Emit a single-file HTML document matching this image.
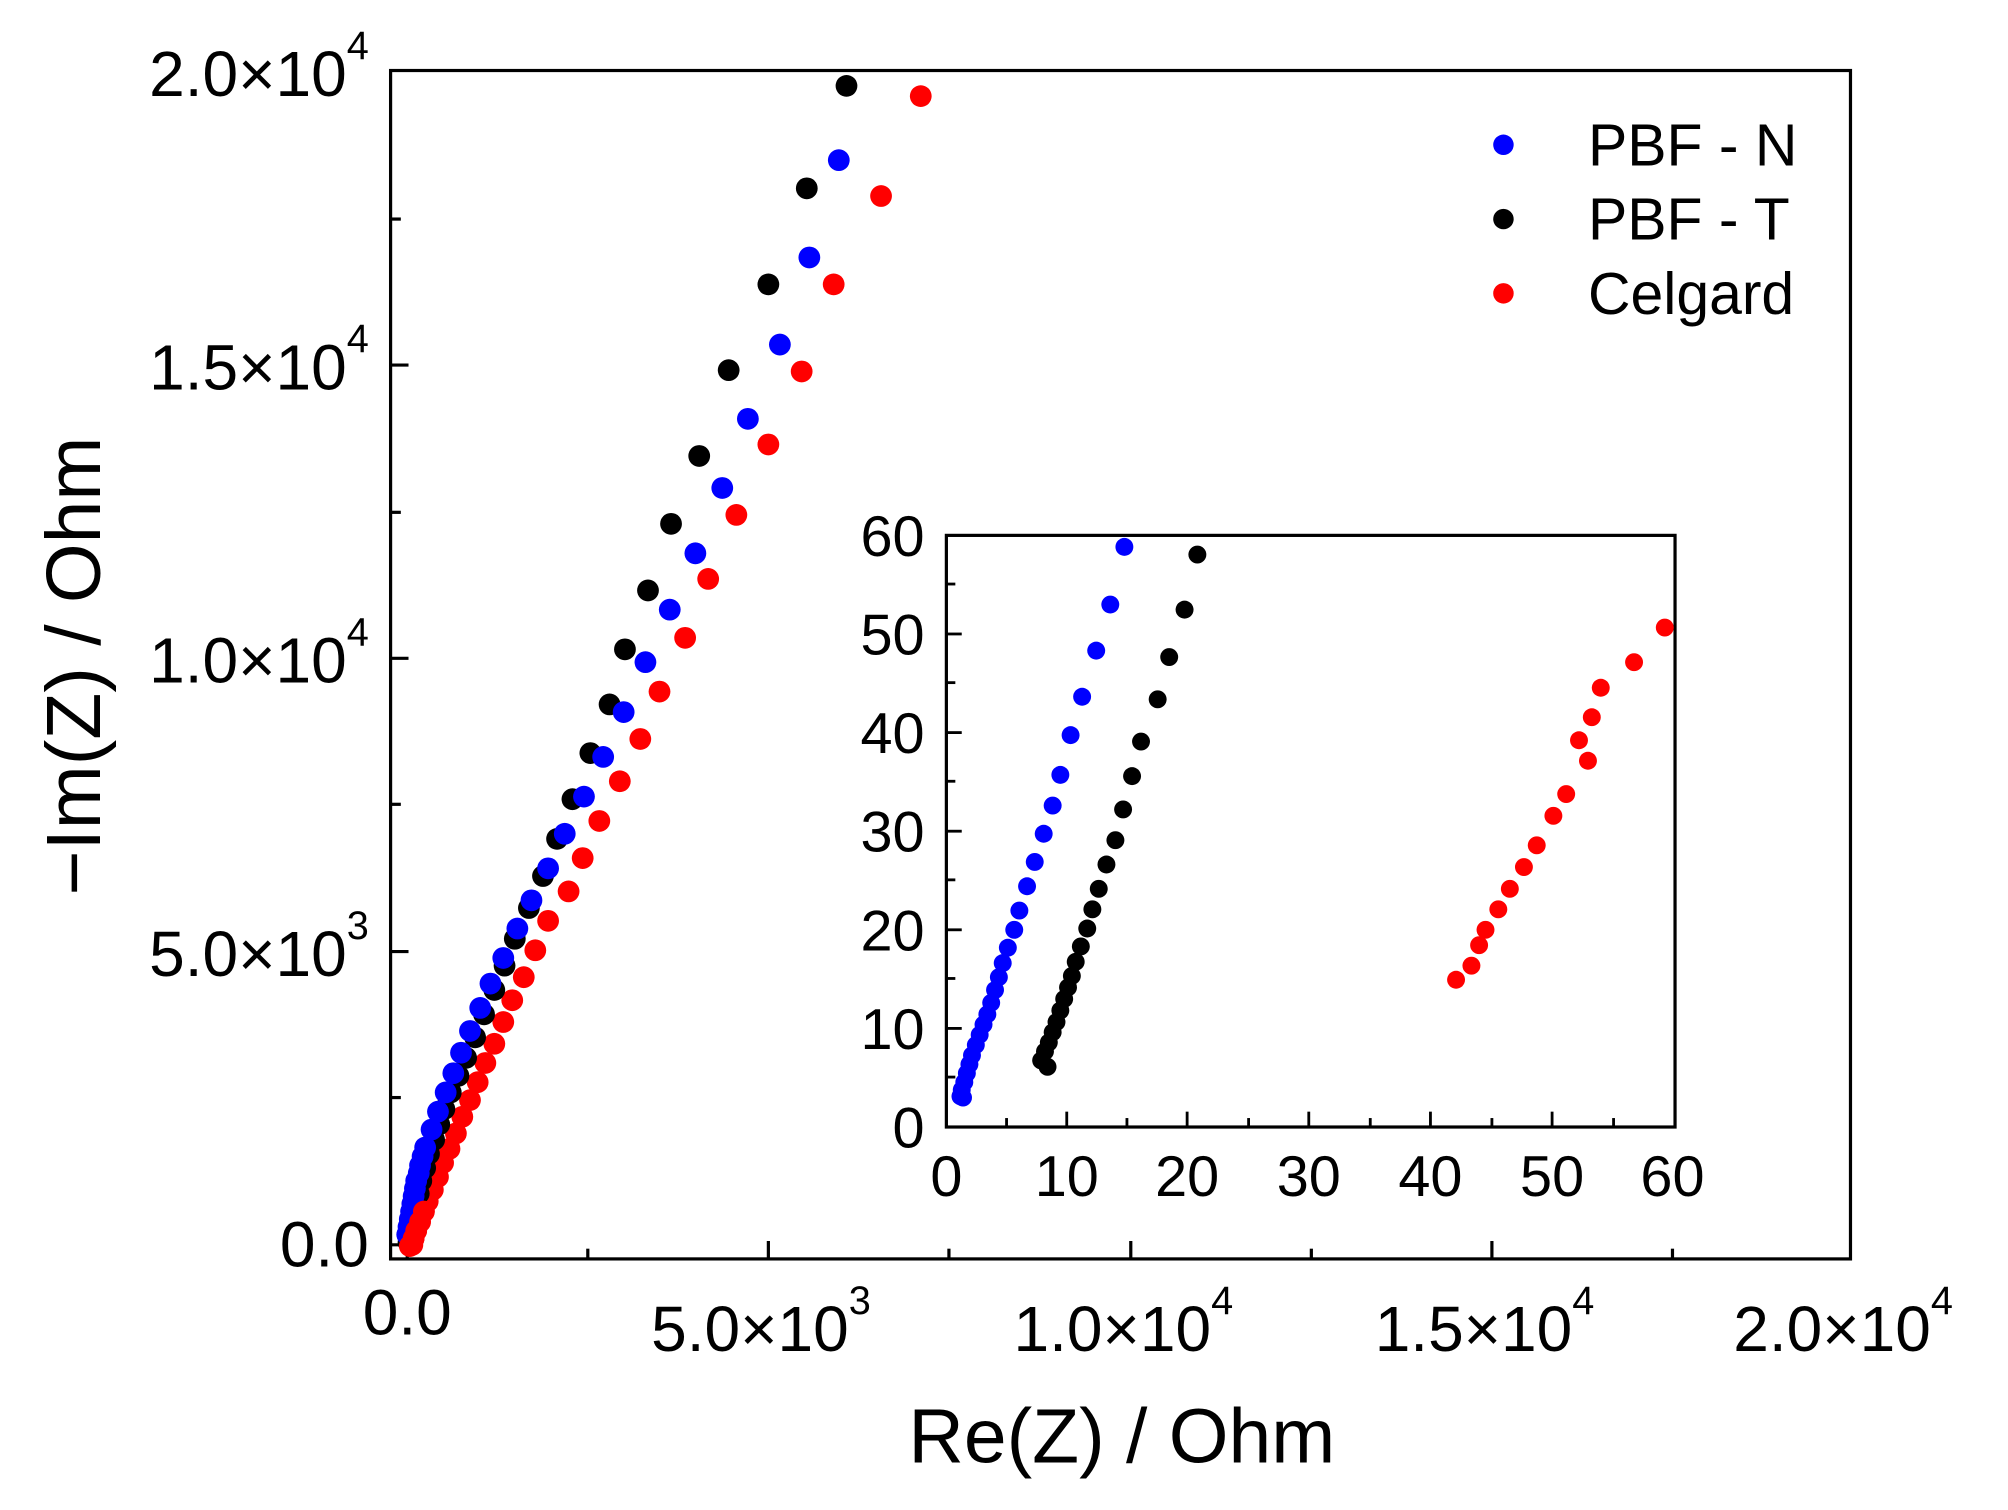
<!DOCTYPE html>
<html><head><meta charset="utf-8"><style>html,body{margin:0;padding:0;background:#fff}svg{display:block}</style></head>
<body>
<svg width="2008" height="1510" viewBox="0 0 1568 1179" xmlns="http://www.w3.org/2000/svg" font-family="Liberation Sans, Arial, sans-serif">
<rect width="1568" height="1179" fill="#fff"/>
<rect x="305" y="55" width="1140" height="928" fill="none" stroke="#000" stroke-width="2.5"/>
<g stroke="#000" stroke-width="2.5">
<line x1="318" y1="983" x2="318" y2="969"/><line x1="600" y1="983" x2="600" y2="969"/><line x1="883" y1="983" x2="883" y2="969"/><line x1="1165" y1="983" x2="1165" y2="969"/>
<line x1="459" y1="983" x2="459" y2="975"/><line x1="741" y1="983" x2="741" y2="975"/><line x1="1024" y1="983" x2="1024" y2="975"/><line x1="1306" y1="983" x2="1306" y2="975"/>
<line x1="305" y1="972" x2="319" y2="972"/><line x1="305" y1="743" x2="319" y2="743"/><line x1="305" y1="514" x2="319" y2="514"/><line x1="305" y1="285" x2="319" y2="285"/>
<line x1="305" y1="857" x2="313" y2="857"/><line x1="305" y1="628" x2="313" y2="628"/><line x1="305" y1="400" x2="313" y2="400"/><line x1="305" y1="171" x2="313" y2="171"/>
</g>
<g font-size="50" fill="#000">
<text x="318" y="1042" text-anchor="middle">0.0</text>
<text x="600" y="1055" text-anchor="end" dx="80">5.0×10<tspan font-size="31" dy="-29">3</tspan></text>
<text x="883" y="1055" text-anchor="end" dx="80">1.0×10<tspan font-size="31" dy="-29">4</tspan></text>
<text x="1165" y="1055" text-anchor="end" dx="80">1.5×10<tspan font-size="31" dy="-29">4</tspan></text>
<text x="1445" y="1055" text-anchor="end" dx="80">2.0×10<tspan font-size="31" dy="-29">4</tspan></text>
<text x="288" y="989" text-anchor="end">0.0</text>
<text x="288" y="762" text-anchor="end">5.0×10<tspan font-size="31" dy="-29">3</tspan></text>
<text x="288" y="533" text-anchor="end">1.0×10<tspan font-size="31" dy="-29">4</tspan></text>
<text x="288" y="304" text-anchor="end">1.5×10<tspan font-size="31" dy="-29">4</tspan></text>
<text x="288" y="75" text-anchor="end">2.0×10<tspan font-size="31" dy="-29">4</tspan></text>
</g>
<text x="876" y="1142" font-size="60" text-anchor="middle">Re(Z) / Ohm</text>
<text transform="translate(78,520) rotate(-90)" font-size="60" text-anchor="middle">−Im(Z) / Ohm</text>
<circle cx="1174" cy="113" r="8" fill="#0000ff"/><circle cx="1174" cy="171" r="8" fill="#000"/><circle cx="1174" cy="229" r="8" fill="#ff0000"/>
<g font-size="46"><text x="1240" y="129">PBF - N</text><text x="1240" y="187">PBF - T</text><text x="1240" y="245">Celgard</text></g>
<g fill="#ff0000">
<circle cx="719" cy="75" r="8.5"/><circle cx="688" cy="153" r="8.5"/><circle cx="651" cy="222" r="8.5"/><circle cx="626" cy="290" r="8.5"/><circle cx="600" cy="347" r="8.5"/><circle cx="575" cy="402" r="8.5"/><circle cx="553" cy="452" r="8.5"/><circle cx="535" cy="498" r="8.5"/><circle cx="515" cy="540" r="8.5"/><circle cx="500" cy="577" r="8.5"/><circle cx="484" cy="610" r="8.5"/><circle cx="468" cy="641" r="8.5"/><circle cx="455" cy="670" r="8.5"/><circle cx="444" cy="696" r="8.5"/><circle cx="428" cy="719" r="8.5"/><circle cx="418" cy="742" r="8.5"/><circle cx="409" cy="763" r="8.5"/><circle cx="400" cy="781" r="8.5"/><circle cx="393" cy="798" r="8.5"/><circle cx="386" cy="815" r="8.5"/><circle cx="379" cy="830" r="8.5"/><circle cx="373" cy="845" r="8.5"/><circle cx="367" cy="859" r="8.5"/><circle cx="361" cy="872" r="8.5"/><circle cx="356" cy="885" r="8.5"/><circle cx="351" cy="897" r="8.5"/><circle cx="346" cy="908" r="8.5"/><circle cx="342" cy="919" r="8.5"/><circle cx="338" cy="929" r="8.5"/><circle cx="334" cy="938" r="8.5"/><circle cx="331" cy="946" r="8.5"/><circle cx="328" cy="954" r="8.5"/><circle cx="325" cy="961" r="8.5"/><circle cx="323" cy="967" r="8.5"/><circle cx="322" cy="972" r="8.5"/>
</g>
<g fill="#000">
<circle cx="661" cy="67" r="8.5"/><circle cx="630" cy="147" r="8.5"/><circle cx="600" cy="222" r="8.5"/><circle cx="569" cy="289" r="8.5"/><circle cx="546" cy="356" r="8.5"/><circle cx="524" cy="409" r="8.5"/><circle cx="506" cy="461" r="8.5"/><circle cx="488" cy="507" r="8.5"/><circle cx="476" cy="550" r="8.5"/><circle cx="461" cy="588" r="8.5"/><circle cx="447" cy="624" r="8.5"/><circle cx="435" cy="655" r="8.5"/><circle cx="424" cy="684" r="8.5"/><circle cx="413" cy="709" r="8.5"/><circle cx="402" cy="733" r="8.5"/><circle cx="394" cy="754" r="8.5"/><circle cx="386" cy="773" r="8.5"/><circle cx="378" cy="792" r="8.5"/><circle cx="371" cy="810" r="8.5"/><circle cx="364" cy="826" r="8.5"/><circle cx="358" cy="840" r="8.5"/><circle cx="352" cy="853" r="8.5"/><circle cx="347" cy="866" r="8.5"/><circle cx="343" cy="878" r="8.5"/><circle cx="339" cy="890" r="8.5"/><circle cx="335" cy="901" r="8.5"/><circle cx="332" cy="912" r="8.5"/><circle cx="329" cy="922" r="8.5"/><circle cx="327" cy="932" r="8.5"/><circle cx="325" cy="941" r="8.5"/><circle cx="323" cy="950" r="8.5"/><circle cx="321" cy="958" r="8.5"/><circle cx="320" cy="965" r="8.5"/><circle cx="319" cy="970" r="8.5"/>
</g>
<g fill="#0000ff">
<circle cx="655" cy="125" r="8.5"/><circle cx="632" cy="201" r="8.5"/><circle cx="609" cy="269" r="8.5"/><circle cx="584" cy="327" r="8.5"/><circle cx="564" cy="381" r="8.5"/><circle cx="543" cy="432" r="8.5"/><circle cx="523" cy="476" r="8.5"/><circle cx="504" cy="517" r="8.5"/><circle cx="487" cy="556" r="8.5"/><circle cx="471" cy="591" r="8.5"/><circle cx="456" cy="622" r="8.5"/><circle cx="441" cy="651" r="8.5"/><circle cx="428" cy="678" r="8.5"/><circle cx="415" cy="703" r="8.5"/><circle cx="404" cy="725" r="8.5"/><circle cx="393" cy="748" r="8.5"/><circle cx="383" cy="768" r="8.5"/><circle cx="375" cy="787" r="8.5"/><circle cx="367" cy="805" r="8.5"/><circle cx="360" cy="822" r="8.5"/><circle cx="354" cy="838" r="8.5"/><circle cx="348" cy="853" r="8.5"/><circle cx="342" cy="868" r="8.5"/><circle cx="337" cy="882" r="8.5"/><circle cx="332" cy="896" r="8.5"/><circle cx="330" cy="903" r="8.5"/><circle cx="328" cy="910" r="8.5"/><circle cx="327" cy="916" r="8.5"/><circle cx="325" cy="922" r="8.5"/><circle cx="324" cy="928" r="8.5"/><circle cx="323" cy="934" r="8.5"/><circle cx="322" cy="940" r="8.5"/><circle cx="321" cy="946" r="8.5"/><circle cx="320" cy="952" r="8.5"/><circle cx="319" cy="958" r="8.5"/><circle cx="318" cy="964" r="8.5"/>
</g>
<g fill="#ff0000"><circle cx="331" cy="946" r="8.5"/><circle cx="328" cy="954" r="8.5"/><circle cx="325" cy="961" r="8.5"/><circle cx="323" cy="967" r="8.5"/><circle cx="320" cy="973" r="8.5"/></g>
<rect x="739" y="418" width="569" height="462" fill="#fff" stroke="#000" stroke-width="2.5"/>
<g stroke="#000" stroke-width="2.2">
<line x1="833" y1="880" x2="833" y2="868"/><line x1="927" y1="880" x2="927" y2="868"/><line x1="1022" y1="880" x2="1022" y2="868"/><line x1="1117" y1="880" x2="1117" y2="868"/><line x1="1212" y1="880" x2="1212" y2="868"/>
<line x1="786" y1="880" x2="786" y2="873"/><line x1="880" y1="880" x2="880" y2="873"/><line x1="975" y1="880" x2="975" y2="873"/><line x1="1070" y1="880" x2="1070" y2="873"/><line x1="1165" y1="880" x2="1165" y2="873"/><line x1="1260" y1="880" x2="1260" y2="873"/>
<line x1="739" y1="803" x2="751" y2="803"/><line x1="739" y1="726" x2="751" y2="726"/><line x1="739" y1="649" x2="751" y2="649"/><line x1="739" y1="572" x2="751" y2="572"/><line x1="739" y1="495" x2="751" y2="495"/>
<line x1="739" y1="841" x2="746" y2="841"/><line x1="739" y1="764" x2="746" y2="764"/><line x1="739" y1="687" x2="746" y2="687"/><line x1="739" y1="610" x2="746" y2="610"/><line x1="739" y1="533" x2="746" y2="533"/><line x1="739" y1="456" x2="746" y2="456"/>
</g>
<g font-size="45">
<g text-anchor="middle"><text x="739" y="934">0</text><text x="833" y="934">10</text><text x="927" y="934">20</text><text x="1022" y="934">30</text><text x="1117" y="934">40</text><text x="1212" y="934">50</text><text x="1306" y="934">60</text></g>
<g text-anchor="end"><text x="722" y="896">0</text><text x="722" y="819">10</text><text x="722" y="742">20</text><text x="722" y="665">30</text><text x="722" y="588">40</text><text x="722" y="511">50</text><text x="722" y="434">60</text></g>
</g>
<g fill="#0000ff">
<circle cx="878" cy="427" r="7"/><circle cx="867" cy="472" r="7"/><circle cx="856" cy="508" r="7"/><circle cx="845" cy="544" r="7"/><circle cx="836" cy="574" r="7"/><circle cx="828" cy="605" r="7"/><circle cx="822" cy="629" r="7"/><circle cx="815" cy="651" r="7"/><circle cx="808" cy="673" r="7"/><circle cx="802" cy="692" r="7"/><circle cx="796" cy="711" r="7"/><circle cx="792" cy="726" r="7"/><circle cx="787" cy="740" r="7"/><circle cx="783" cy="752" r="7"/><circle cx="780" cy="763" r="7"/><circle cx="777" cy="773" r="7"/><circle cx="774" cy="783" r="7"/><circle cx="771" cy="792" r="7"/><circle cx="768" cy="800" r="7"/><circle cx="765" cy="808" r="7"/><circle cx="762" cy="816" r="7"/><circle cx="759" cy="824" r="7"/><circle cx="757" cy="831" r="7"/><circle cx="755" cy="838" r="7"/><circle cx="753" cy="845" r="7"/><circle cx="751" cy="851" r="7"/><circle cx="750" cy="856" r="7"/><circle cx="752" cy="857" r="7"/>
</g>
<g fill="#000">
<circle cx="935" cy="433" r="7"/><circle cx="925" cy="476" r="7"/><circle cx="913" cy="513" r="7"/><circle cx="904" cy="546" r="7"/><circle cx="891" cy="579" r="7"/><circle cx="884" cy="606" r="7"/><circle cx="877" cy="632" r="7"/><circle cx="871" cy="656" r="7"/><circle cx="864" cy="675" r="7"/><circle cx="858" cy="694" r="7"/><circle cx="853" cy="710" r="7"/><circle cx="849" cy="725" r="7"/><circle cx="844" cy="739" r="7"/><circle cx="840" cy="751" r="7"/><circle cx="837" cy="762" r="7"/><circle cx="834" cy="771" r="7"/><circle cx="831" cy="780" r="7"/><circle cx="828" cy="789" r="7"/><circle cx="825" cy="798" r="7"/><circle cx="822" cy="806" r="7"/><circle cx="819" cy="814" r="7"/><circle cx="816" cy="821" r="7"/><circle cx="813" cy="828" r="7"/><circle cx="818" cy="833" r="7"/>
</g>
<g fill="#ff0000">
<circle cx="1300" cy="490" r="7"/><circle cx="1276" cy="517" r="7"/><circle cx="1250" cy="537" r="7"/><circle cx="1243" cy="560" r="7"/><circle cx="1233" cy="578" r="7"/><circle cx="1240" cy="594" r="7"/><circle cx="1223" cy="620" r="7"/><circle cx="1213" cy="637" r="7"/><circle cx="1200" cy="660" r="7"/><circle cx="1190" cy="677" r="7"/><circle cx="1179" cy="694" r="7"/><circle cx="1170" cy="710" r="7"/><circle cx="1160" cy="726" r="7"/><circle cx="1155" cy="738" r="7"/><circle cx="1149" cy="754" r="7"/><circle cx="1137" cy="765" r="7"/>
</g>
</svg>
</body></html>
